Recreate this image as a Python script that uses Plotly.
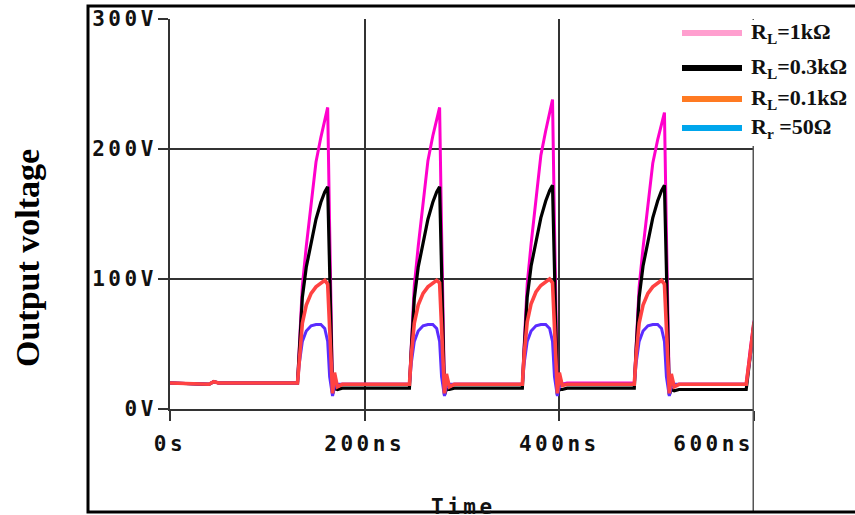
import plotly.graph_objects as go

# ---- data ----
time_ns = [0, 40, 45, 50,
           131, 133, 136, 140, 145, 150, 155, 159, 162, 164, 167, 169, 172, 177,
           246, 248, 251, 255, 260, 265, 270, 274, 277, 279, 282, 284, 287, 292,
           362, 364, 367, 371, 376, 381, 386, 390, 393, 395, 398, 400, 403, 408,
           477, 479, 482, 486, 491, 496, 501, 505, 508, 510, 513, 515, 518, 523,
           592, 596, 600]

v_1k = [20, 19, 21, 20,
        20, 50, 95, 125, 158, 190, 209, 223, 232, 140, 12, 24, 18, 19,
        19, 50, 95, 125, 159, 191, 210, 224, 232, 138, 13, 24, 18, 19,
        19, 51, 96, 127, 162, 195, 214, 229, 238, 142, 12, 25, 19, 20,
        20, 50, 94, 124, 157, 189, 207, 220, 228, 136, 13, 24, 18, 19,
        19, 45, 68]

v_03k = [20, 19, 21, 20,
         20, 48, 86, 109, 128, 146, 159, 167, 171, 100, 12, 16, 15, 16,
         16, 47, 85, 109, 128, 146, 159, 167, 171, 98, 11, 15, 15, 16,
         16, 47, 86, 110, 129, 147, 160, 168, 172, 100, 11, 15, 15, 16,
         16, 47, 86, 110, 129, 147, 160, 168, 172, 100, 11, 15, 14, 15,
         15, 40, 66]

v_01k = [20, 19, 21, 20,
         20, 42, 66, 80, 89, 94, 97, 99, 96, 60, 12, 28, 17, 19,
         19, 42, 66, 80, 89, 94, 97, 99, 97, 58, 12, 27, 17, 19,
         19, 43, 67, 81, 90, 95, 98, 100, 97, 60, 12, 28, 18, 19,
         19, 42, 66, 80, 89, 94, 97, 99, 96, 58, 12, 27, 17, 19,
         19, 42, 67]

v_50 = [20, 19, 21, 20,
        20, 36, 52, 60, 64, 65, 65, 62, 52, 25, 10, 17, 19, 19,
        19, 36, 52, 60, 64, 65, 65, 62, 52, 25, 10, 17, 19, 19,
        19, 36, 52, 60, 64, 65, 65, 62, 52, 25, 10, 17, 19, 19,
        19, 36, 52, 60, 64, 65, 65, 62, 52, 25, 10, 17, 19, 19,
        19, 40, 62]

x_tickvals = [0, 200, 400, 600]
x_ticklabels = ["0s", "200ns", "400ns", "600ns"]
y_tickvals = [0, 100, 200, 300]
y_ticklabels = ["0V", "100V", "200V", "300V"]

legend_labels = ["R<sub>L</sub>=1kΩ", "R<sub>L</sub>=0.3kΩ", "R<sub>L</sub>=0.1kΩ", "R<sub>r</sub> =50Ω"]
legend_colors = ["#ff9fcf", "#000000", "#ff7a22", "#00a6ec"]

# ---- styling ----
LS = "letter-spacing:3.5px"
def spaced(s):
    return f'<span style="{LS}">{s}</span>'

# last x label sits left of its tick, inside the frame
x_ticktext = [f"<b>{spaced(t)}</b>" for t in x_ticklabels]
x_ticktext[-1] = f"<b>{spaced(x_ticklabels[-1] + '&nbsp;' * 5)}</b>"

fig = go.Figure()
series = [(v_1k, "#ff00cc", 3), (v_03k, "#000000", 3.2), (v_50, "#5a2cff", 3), (v_01k, "#ff4242", 3.6)]
for vals, col, w in series:
    fig.add_trace(go.Scatter(x=time_ns, y=vals, mode="lines",
                             line=dict(color=col, width=w), showlegend=False,
                             hoverinfo="skip"))

W, H = 855, 515
L, R, T, B = 170, 101, 19, 106
pw, ph = W - L - R, H - T - B

def px(xp):
    return (xp - L) / pw
def py(yp):
    return (H - B - yp) / ph

tickfont = dict(family="DejaVu Sans Mono", size=21, color="#111")
fig.update_layout(
    width=W, height=H, autosize=False,
    margin=dict(l=L, r=R, t=T, b=B, pad=0),
    paper_bgcolor="white", plot_bgcolor="white",
    showlegend=False,
    xaxis=dict(range=[0, 600], tickvals=x_tickvals, ticktext=x_ticktext,
               showgrid=True, gridcolor="#333", gridwidth=2,
               showline=True, linecolor="#333", linewidth=2,
               ticks="outside", ticklen=10, tickwidth=2, tickcolor="#333",
               ticklabelstandoff=5, automargin=False,
               tickfont=tickfont, zeroline=False),
    yaxis=dict(range=[0, 300], tickvals=y_tickvals,
               ticktext=[f"<b>{spaced(t)}</b>" for t in y_ticklabels],
               showgrid=True, gridcolor="#333", gridwidth=2,
               showline=True, linecolor="#333", linewidth=2,
               ticks="outside", ticklen=10, tickwidth=2, tickcolor="#333",
               ticklabelstandoff=-3, automargin=False,
               tickfont=tickfont, zeroline=False),
)

shapes = []
# right border extending to frame bottom
shapes.append(dict(type="line", xref="x", yref="paper", x0=600, x1=600,
                   y0=py(512), y1=1.0, line=dict(color="#555", width=3), layer="above"))
# white legend box
shapes.append(dict(type="rect", xref="paper", yref="paper",
                   x0=px(672), x1=px(870), y0=py(146), y1=py(20),
                   fillcolor="white", line=dict(width=0), layer="above"))
# outer frame
shapes.append(dict(type="rect", xref="paper", yref="paper",
                   x0=px(88), x1=px(880), y0=py(512), y1=py(6),
                   line=dict(color="black", width=3), layer="above"))

annotations = []
row_y = [33, 68, 99, 128]
for lab, col, yy in zip(legend_labels, legend_colors, row_y):
    shapes.append(dict(type="line", xref="paper", yref="paper",
                       x0=px(682), x1=px(742), y0=py(yy), y1=py(yy),
                       line=dict(color=col, width=6), layer="above"))
    annotations.append(dict(xref="paper", yref="paper", x=px(749), y=py(yy),
                            text=f"<b>{lab}</b>", showarrow=False,
                            xanchor="left", yanchor="middle",
                            font=dict(family="Liberation Serif", size=22, color="#111")))

annotations.append(dict(xref="paper", yref="paper", x=px(463), y=py(493),
                        text=f"<b>{spaced('Time')}</b>", showarrow=False,
                        xanchor="center", yanchor="top",
                        font=dict(family="DejaVu Sans Mono", size=21, color="#111")))
annotations.append(dict(xref="paper", yref="paper", x=px(27), y=py(258),
                        text="<b>Output voltage</b>", showarrow=False, textangle=-90,
                        xanchor="center", yanchor="middle",
                        font=dict(family="Liberation Serif", size=34, color="black")))

fig.update_layout(shapes=shapes, annotations=annotations)
fig.write_html("out.html", config={"displayModeBar": False, "responsive": False},
               post_script="document.body.style.margin='0';document.body.style.overflow='hidden';")
